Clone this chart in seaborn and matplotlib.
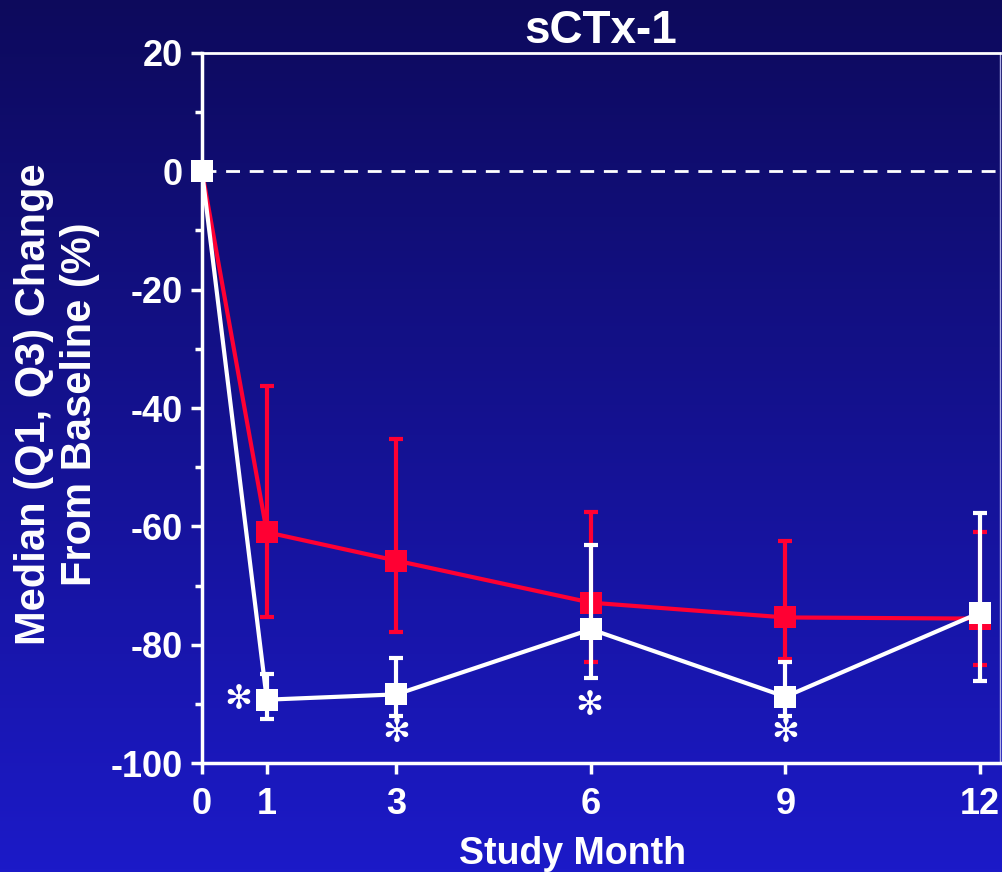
import matplotlib
matplotlib.use("Agg")
import matplotlib.pyplot as plt
import numpy as np
import pandas as pd
import seaborn as sns
from matplotlib.colors import LinearSegmentedColormap
from matplotlib.ticker import MultipleLocator

# study months and median % change (Q1, Q3)
months = [0, 1, 3, 6, 9, 12]

red_median = [0, -61, -65.8, -72.9, -75.4, -75.6]
red_q1 = [0, -75.4, -77.9, -82.9, -82.5, -83.5]
red_q3 = [0, -36.2, -45.3, -57.5, -62.4, -61.0]

white_median = [0, -89.3, -88.4, -77.4, -88.8, -74.6]
white_q1 = [0, -92.5, -92.0, -85.7, -92.0, -86.2]
white_q3 = [0, -84.9, -82.2, -63.1, -83.0, -57.7]

# significance markers
star_x = [0.56, 3, 5.97, 9]
star_y = [-89.3, -94.8, -90.3, -94.8]

title = "sCTx-1"
xlabel = "Study Month"
ylabel = "Median (Q1, Q3) Change\nFrom Baseline (%)"

sns.set_style("ticks")
plt.rcParams['font.family'] = ['Liberation Sans', 'DejaVu Sans']
plt.rcParams['font.weight'] = 'bold'
plt.rcParams['axes.unicode_minus'] = False

fig = plt.figure(figsize=(10.02, 8.72), dpi=100)

# gradient background
bg = fig.add_axes([0, 0, 1, 1], zorder=-10)
cmap = LinearSegmentedColormap.from_list("bg", ["#0d0a5c", "#1c1ac8"])
bg.imshow(np.linspace(0, 1, 256).reshape(-1, 1), aspect="auto", cmap=cmap,
          extent=[0, 1, 0, 1], origin="upper")
bg.axis("off")

ax = fig.add_axes([202 / 1002, 1 - 763 / 872, 798 / 1002, 710 / 872])
ax.patch.set_alpha(0)

df = pd.DataFrame({"month": months * 2,
                   "median": red_median + white_median,
                   "group": ["red"] * 6 + ["white"] * 6})

red = "#ff0033"
white = "#ffffff"

yr = np.array(red_median)
ax.errorbar(months, red_median,
            yerr=[yr - np.array(red_q1), np.array(red_q3) - yr],
            fmt="none", ecolor=red, elinewidth=3, capsize=5, capthick=3,
            zorder=2, clip_on=False)
sns.lineplot(data=df[df.group == "red"], x="month", y="median", ax=ax,
             color=red, lw=3, marker="s", markersize=15.5, markeredgewidth=0,
             zorder=3, clip_on=False)

yw = np.array(white_median)
ax.errorbar(months, white_median,
            yerr=[yw - np.array(white_q1), np.array(white_q3) - yw],
            fmt="none", ecolor=white, elinewidth=3, capsize=5, capthick=3,
            zorder=4, clip_on=False)
sns.lineplot(data=df[df.group == "white"], x="month", y="median", ax=ax,
             color=white, lw=3, marker="s", markersize=15.5, markeredgewidth=0,
             zorder=5, clip_on=False)

ax.axhline(0, color="white", lw=2, ls=(0, (5, 3.5)), zorder=1)

for sx, sy in zip(star_x, star_y):
    ax.text(sx, sy, "\u273b", color="white", fontsize=24, ha="center",
            va="center", family=["DejaVu Sans"], fontweight="normal", zorder=6)

ax.set_xlim(0, 12.31)
ax.set_ylim(-100, 20)
ax.set_xticks(months)
ax.set_yticks(range(-100, 21, 20))
ax.yaxis.set_minor_locator(MultipleLocator(10))

ax.tick_params(axis="both", colors="white", labelcolor="white", labelsize=26,
               width=2.5, length=8, direction="out", pad=6)
ax.tick_params(axis="x", pad=9)
ax.tick_params(axis="y", which="minor", colors="white", width=2.5, length=5)
for lab in ax.get_xticklabels() + ax.get_yticklabels():
    lab.set_fontweight("bold")

for s in ["left", "bottom"]:
    ax.spines[s].set_color("white")
    ax.spines[s].set_linewidth(2.5)
ax.spines["top"].set_color("white")
ax.spines["top"].set_linewidth(2)
ax.spines["right"].set_color("#b0b0e8")
ax.spines["right"].set_linewidth(1)

ax.set_title(title, color="white", fontsize=33, fontweight="bold", pad=4)
ax.set_xlabel(xlabel, color="white", fontsize=27, fontweight="bold")
ax.set_ylabel(ylabel, color="white", fontsize=30, fontweight="bold",
              linespacing=1.2)
ax.xaxis.set_label_coords(0.464, -0.103)
ax.yaxis.set_label_coords(-0.128, 0.506)
if ax.get_legend():
    ax.get_legend().remove()

fig.savefig("out.png", dpi=100)
